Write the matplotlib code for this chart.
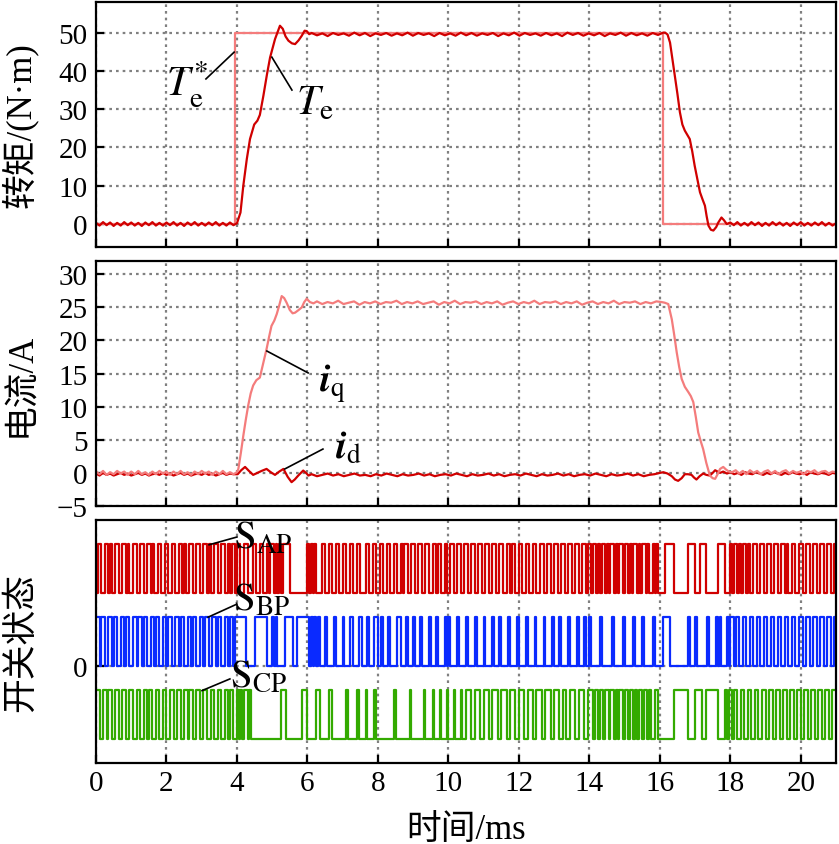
"""
Torque step response of a PMSM drive: torque, dq currents and switching states
"""
import numpy as np
import matplotlib
matplotlib.use("Agg")
import matplotlib.pyplot as plt

plt.rcParams["font.family"] = ["Liberation Serif", "Noto Sans CJK SC"]
plt.rcParams["mathtext.fontset"] = "stix"
plt.rcParams["axes.unicode_minus"] = True

# ---------------- torque (N·m) ----------------
te_ref_t = [0.0, 3.95, 3.95, 16.1, 16.1, 21.0]
te_ref = [0, 0, 50, 50, 0, 0]

te_pre = [0.3, -0.4, 0.5, -0.3, 0.4, -0.5, 0.3, -0.4, 0.5, -0.3,
          0.4, -0.4, 0.3, -0.5, 0.4, -0.3, 0.5, -0.4, 0.3, -0.4,
          0.4, -0.3, 0.5, -0.4, 0.3, -0.5, 0.4, -0.3, 0.5, -0.4,
          0.3, -0.4, 0.4, -0.3, 0.5, -0.4, 0.3, -0.4, 0.4, -0.3]
te_rise_t = [4.0, 4.1, 4.18, 4.28, 4.37, 4.49, 4.58, 4.65, 4.75, 4.85, 4.94, 5.08,
             5.22, 5.3, 5.38, 5.46, 5.56, 5.65, 5.75, 5.84, 5.92, 5.98, 6.05]
te_rise = [0.2, 3, 10, 17, 22.2, 26, 27, 28.5, 33.5, 39, 43.5, 48.3,
           51.8, 51, 49, 47.9, 47.2, 47, 48, 49.2, 50.5, 50.4, 49.6]
te_hold = [49.9, 49.3, 49.8, 49.1, 49.9, 49.4, 49.8, 49.2, 50.0, 49.3,
           49.9, 49.1, 49.8, 49.4, 49.9, 49.2, 49.8, 49.3, 50.0, 49.2,
           49.9, 49.4, 49.8, 49.1, 49.9, 49.3, 49.8, 49.2, 50.0, 49.3,
           49.9, 49.2, 49.8, 49.4, 49.9, 49.1, 49.8, 49.3, 50.0, 49.2,
           49.9, 49.4, 49.8, 49.2, 49.9, 49.3, 49.8, 49.1, 50.0, 49.4,
           49.9, 49.2, 49.8, 49.3, 49.9, 49.1, 49.8, 49.4, 50.0, 49.2,
           49.9, 49.3, 49.8, 49.2, 49.9, 49.4, 50.0]
te_fall_t = [16.15, 16.22, 16.29, 16.36, 16.43, 16.5, 16.57, 16.64, 16.71, 16.78,
             16.85, 16.92, 16.99, 17.07, 17.14, 17.21, 17.28, 17.33, 17.38, 17.45,
             17.52, 17.6, 17.66, 17.75, 17.82, 17.9]
te_fall = [50, 49.5, 47.4, 43, 38.7, 34, 29.2, 26, 24.4, 23.3,
           22.2, 19, 15.2, 11.5, 8.3, 6.5, 4.8, 2, -0.4, -1.5,
           -1.7, -0.8, 0.4, 1.7, 1, 0]
te_post = [0.4, -0.3, 0.5, -0.4, 0.3, -0.4, 0.5, -0.3, 0.4, -0.5,
           0.3, -0.4, 0.5, -0.3, 0.4, -0.4, 0.3, -0.5, 0.4, -0.3,
           0.5, -0.4, 0.3, -0.4, 0.4, -0.3, 0.5, -0.4, 0.3, -0.4, 0.2]

# ---------------- currents (A) ----------------
iq_pre = [0.2, -0.2, 0.3, -0.3, 0.1, -0.2, 0.3, -0.1, 0.2, -0.3,
          0.2, -0.2, 0.3, -0.2, 0.1, -0.3, 0.2, -0.2, 0.3, -0.1,
          0.2, -0.3, 0.2, -0.2, 0.3, -0.2, 0.1, -0.3, 0.2, -0.2,
          0.3, -0.1, 0.2, -0.3, 0.2, -0.2, 0.3, -0.2, 0.1, -0.2]
iq_rise_t = [4.0, 4.04, 4.11, 4.18, 4.25, 4.32, 4.39, 4.46, 4.55, 4.65,
             4.75, 4.84, 4.91, 4.98, 5.06, 5.13, 5.2, 5.27, 5.34, 5.41,
             5.5, 5.58, 5.65, 5.75, 5.84, 5.91, 5.98, 6.07, 6.17]
iq_rise = [0.1, 0.6, 3, 5.6, 8, 10.2, 12, 13.2, 14, 14.4,
           16.7, 18.7, 20.5, 22.2, 23, 24, 25.3, 26.7, 26.4, 25.7,
           24.6, 24.1, 24.2, 24.6, 25, 25.8, 26.3, 25.8, 25.6]
iq_hold = [25.9, 25.5, 25.8, 25.6, 26.0, 25.5, 25.7, 25.9, 25.4, 25.8,
           25.6, 25.9, 25.5, 25.8, 25.7, 26.0, 25.5, 25.8, 25.6, 25.9,
           25.5, 25.7, 25.9, 25.4, 25.8, 25.6, 26.0, 25.5, 25.8, 25.7,
           25.9, 25.5, 25.8, 25.6, 25.9, 25.4, 25.7, 25.9, 25.5, 25.8,
           25.6, 26.0, 25.5, 25.8, 25.7, 25.9, 25.5, 25.8, 25.6, 25.9,
           25.4, 25.7, 25.9, 25.5, 25.8, 25.6, 26.0, 25.5, 25.8, 25.7,
           25.9, 25.5, 25.8, 25.6, 25.9, 25.8]
iq_fall_t = [16.14, 16.24, 16.34, 16.41, 16.48, 16.55, 16.62, 16.71, 16.81, 16.88,
             16.95, 17.02, 17.09, 17.16, 17.23, 17.32, 17.42, 17.5, 17.57, 17.64,
             17.71, 17.8, 17.88, 17.96]
iq_fall = [25.7, 25.5, 23.2, 20.8, 18.2, 16, 14.2, 13, 12.2, 11.6,
           10.7, 8.5, 6.1, 4.8, 3.6, 1.5, -0.4, -0.8, -0.9, -0.2,
           0.6, 0.9, 0.5, 0.2]
iq_post = [0.1, 0.4, -0.1, 0.3, -0.2, 0.4, 0.0, 0.3, -0.2, 0.2,
           0.4, -0.1, 0.3, -0.2, 0.2, 0.4, -0.1, 0.3, 0.0, 0.2,
           -0.2, 0.3, 0.1, 0.4, -0.1, 0.2, 0.3, -0.1, 0.2, 0.1]

id_pre = [-0.1, -0.4, 0.0, -0.3, -0.1, -0.4, -0.2, 0.0, -0.3, -0.1,
          -0.4, -0.2, 0.0, -0.3, -0.1, -0.4, -0.2, -0.1, -0.3, 0.0,
          -0.3, -0.1, -0.4, -0.2, 0.0, -0.3, -0.1, -0.4, -0.2, -0.1,
          -0.3, 0.0, -0.3, -0.1, -0.4, -0.2, 0.0, -0.3, -0.1, -0.2]
id_mid_t = [4.02, 4.12, 4.23, 4.34, 4.46, 4.58, 4.7, 4.84, 4.96, 5.08,
            5.2, 5.32, 5.44, 5.55, 5.64, 5.74, 5.88, 5.96, 6.03]
id_mid = [-0.2, 0.4, 0.9, 0.3, -0.3, 0, 0.3, 0.6, 0.1, -0.3,
          0.2, 0.6, -0.6, -1.4, -1.0, -0.4, 0.35, 0, -0.4]
id_hold = [-0.2, -0.5, -0.3, -0.1, -0.4, -0.2, -0.5, -0.3, -0.1, -0.4,
           -0.3, -0.5, -0.2, -0.4, -0.1, -0.3, -0.5, -0.2, -0.4, -0.3,
           -0.1, -0.4, -0.2, -0.5, -0.3, -0.2, -0.4, -0.1, -0.3, -0.5,
           -0.2, -0.4, -0.3, -0.1, -0.4, -0.2, -0.5, -0.3, -0.2, -0.4,
           -0.1, -0.3, -0.5, -0.2, -0.4, -0.3, -0.1, -0.4, -0.2, -0.5,
           -0.3, -0.2, -0.4, -0.1, -0.3, -0.5, -0.2, -0.4, -0.3, -0.1,
           -0.4, -0.2, -0.5, -0.3, -0.2, 0.0]
id_fall_t = [16.1, 16.22, 16.34, 16.43, 16.52, 16.62, 16.71, 16.8, 16.9, 16.97,
             17.04, 17.13, 17.23, 17.32, 17.42, 17.5, 17.57, 17.64, 17.71]
id_fall = [0.1, -0.1, -0.5, -1.0, -1.2, -0.8, -0.2, -0.2, -0.3, -0.7,
           -1.0, -0.5, -0.1, -0.3, -0.4, 0, 0.4, 0.2, 0]
id_post = [0.2, -0.1, 0.1, -0.2, 0.0, -0.3, 0.1, -0.1, -0.2, 0.1,
           -0.1, -0.3, 0.0, -0.2, 0.1, -0.1, -0.3, 0.0, -0.2, 0.1,
           -0.1, -0.2, 0.0, -0.3, 0.1, -0.1, -0.2, 0.0, -0.1, -0.3,
           0.0, -0.1]

# ---------------- switching states, one string per ms, 0.05 ms per char ----------------
sw_step = 0.05
sap_bits = ["01100110100110011010", "01100110011010011001", "10011001101001100110",
            "01101001100110010110", "11001100011001100101", "10101011110000000000",
            "10101000110011001100", "11001100110001100110", "01100110011001011001",
            "10011001100110110010", "01100110011001100110", "01100110011001101100",
            "11001100110011001100", "11001100110011001101", "10110101101011010110",
            "11010110101101001010", "00011111000000001111", "00011100000001111000",
            "10110101101001100110", "01100110011010011001", "10011001100110011001"]
sbp_bits = ["11011001101100110110", "01101101100110110011", "01100110110011011001",
            "10110011011001101101", "11111000001111111000", "10100001111100111111",
            "10101010001000010000", "10001100011000100011", "00100010000110001000",
            "10001000010001000010", "10000100001000010000", "10000100010000100001",
            "00001000010000100001", "00010000100001000100", "10000010000001000001",
            "00000100001000001000", "00111100000000001000", "10000001000010100010",
            "11011001100110011001", "10011001100110011001", "10011001100110011001"]
scp_bits = ["11001101100110011001", "10011001101100110011", "00110011001101100110",
            "01100110011001101100", "10101101000000000000", "00000111000000000111",
            "00000110000011000000", "00100000100001000010", "00000000010000000010",
            "00000010000100010001", "00010001001110011100", "11100111001110011100",
            "11100111001110011100", "11100110011100111001", "11011011011011010110",
            "11011010110110100110", "00000000111111110000", "11110011111110000101",
            "10110011001100110011", "00110011001100110011", "00110011001100110011"]
sw_offsets = [1.5, 0.0, -1.5]

# ---------------- styling ----------------
c_dark = "#d00000"
c_light = "#f47c7c"
c_blue = "#0a2aff"
c_green = "#33aa00"
grid_kw = dict(color="#808080", linestyle=(0, (1.2, 1.8)), linewidth=1.6)
label_fs = 25
tick_fs = 21

W, H = 839, 845
fig = plt.figure(figsize=(W / 100, H / 100), dpi=100)
left, width = 96 / W, 740 / W
ax1 = fig.add_axes([left, 1 - 248 / H, width, 245 / H])
ax2 = fig.add_axes([left, 1 - 507 / H, width, 245 / H])
ax3 = fig.add_axes([left, 1 - 764 / H, width, 243 / H])

for ax in (ax1, ax2, ax3):
    ax.set_xlim(0, 21)
    ax.set_xticks(np.arange(0, 21, 2))
    ax.tick_params(direction="in", length=6, width=1.6, labelsize=tick_fs, pad=6)
    ax.tick_params(axis="x", pad=5)
    for s in ax.spines.values():
        s.set_linewidth(1.6)
    ax.grid(True, **grid_kw)
    ax.set_axisbelow(True)
for ax in (ax1, ax2):
    ax.tick_params(axis="x", labelbottom=False)

# torque panel
te_t = np.concatenate([np.linspace(0, 3.9, len(te_pre)), te_rise_t,
                       np.linspace(6.12, 16.1, len(te_hold)), te_fall_t,
                       np.linspace(18.0, 21.0, len(te_post))])
te = np.concatenate([te_pre, te_rise, te_hold, te_fall, te_post])
ax1.plot(te_ref_t, te_ref, color=c_light, lw=1.6)
ax1.plot(te_t, te, color=c_dark, lw=1.6)
ax1.set_ylim(-6, 58)
ax1.set_yticks(np.arange(0, 51, 10))
ax1.set_ylabel("转矩/(N·m)", fontsize=label_fs)
ax1.yaxis.set_label_coords(-0.078, 0.5)

ax1.plot([3.12, 3.92], [37.9, 44.9], color="k", lw=1.2)
ax1.text(2.58, 36.5, r"$T_{\mathrm{e}}^{*}$", fontsize=30, ha="center", va="center")
ax1.plot([4.99, 5.56], [43.6, 35.0], color="k", lw=1.2)
ax1.text(6.2, 31.5, r"$T_{\mathrm{e}}$", fontsize=30, ha="center", va="center")

# current panel
iq_t = np.concatenate([np.linspace(0, 3.9, len(iq_pre)), iq_rise_t,
                       np.linspace(6.27, 16.05, len(iq_hold)), iq_fall_t,
                       np.linspace(18.05, 21.0, len(iq_post))])
iq = np.concatenate([iq_pre, iq_rise, iq_hold, iq_fall, iq_post])
id_t = np.concatenate([np.linspace(0, 3.9, len(id_pre)), id_mid_t,
                       np.linspace(6.12, 16.0, len(id_hold)), id_fall_t,
                       np.linspace(17.8, 21.0, len(id_post))])
idv = np.concatenate([id_pre, id_mid, id_hold, id_fall, id_post])
ax2.plot(id_t, idv, color=c_dark, lw=1.6)
ax2.plot(iq_t, iq, color=c_light, lw=1.6)
ax2.set_ylim(-5, 32)
ax2.set_yticks(np.arange(-5, 31, 5))
ax2.set_ylabel("电流/A", fontsize=label_fs)
ax2.yaxis.set_label_coords(-0.078, 0.5)

ax2.plot([4.85, 6.02], [18.4, 15.1], color="k", lw=1.2)
ax2.text(6.7, 13.6, r"$\mathbfit{i}_{\mathrm{q}}$", fontsize=28, ha="center", va="center")
ax2.plot([5.36, 6.44], [0.6, 3.6], color="k", lw=1.2)
ax2.text(7.15, 3.7, r"$\mathbfit{i}_{\mathrm{d}}$", fontsize=28, ha="center", va="center")

# switching panel
for bits, off, col in zip((sap_bits, sbp_bits, scp_bits), sw_offsets,
                          (c_dark, c_blue, c_green)):
    s = "".join(bits)
    lev = np.array([int(ch) for ch in s] + [int(s[-1])], dtype=float)
    t = np.arange(len(lev)) * sw_step
    ax3.step(t, lev + off, where="post", color=col, lw=1.6)
ax3.set_ylim(-2, 3)
ax3.set_yticks([0])
ax3.set_ylabel("开关状态", fontsize=label_fs)
ax3.yaxis.set_label_coords(-0.078, 0.5)
ax3.set_xlabel("时间/ms", fontsize=label_fs, labelpad=12)

for (x0, y0, x1, y1, tx, ty, lab) in [
        (3.21, 2.49, 4.0, 2.65, 4.75, 2.62, r"$\mathrm{S}_{\mathrm{AP}}$"),
        (3.18, 1.0, 4.0, 1.27, 4.7, 1.34, r"$\mathrm{S}_{\mathrm{BP}}$"),
        (3.01, -0.51, 3.8, -0.27, 4.6, -0.21, r"$\mathrm{S}_{\mathrm{CP}}$")]:
    ax3.plot([x0, x1], [y0, y1], color="k", lw=1.2)
    ax3.text(tx, ty, lab, fontsize=28, ha="center", va="center")

fig.savefig("out.png", dpi=100)
